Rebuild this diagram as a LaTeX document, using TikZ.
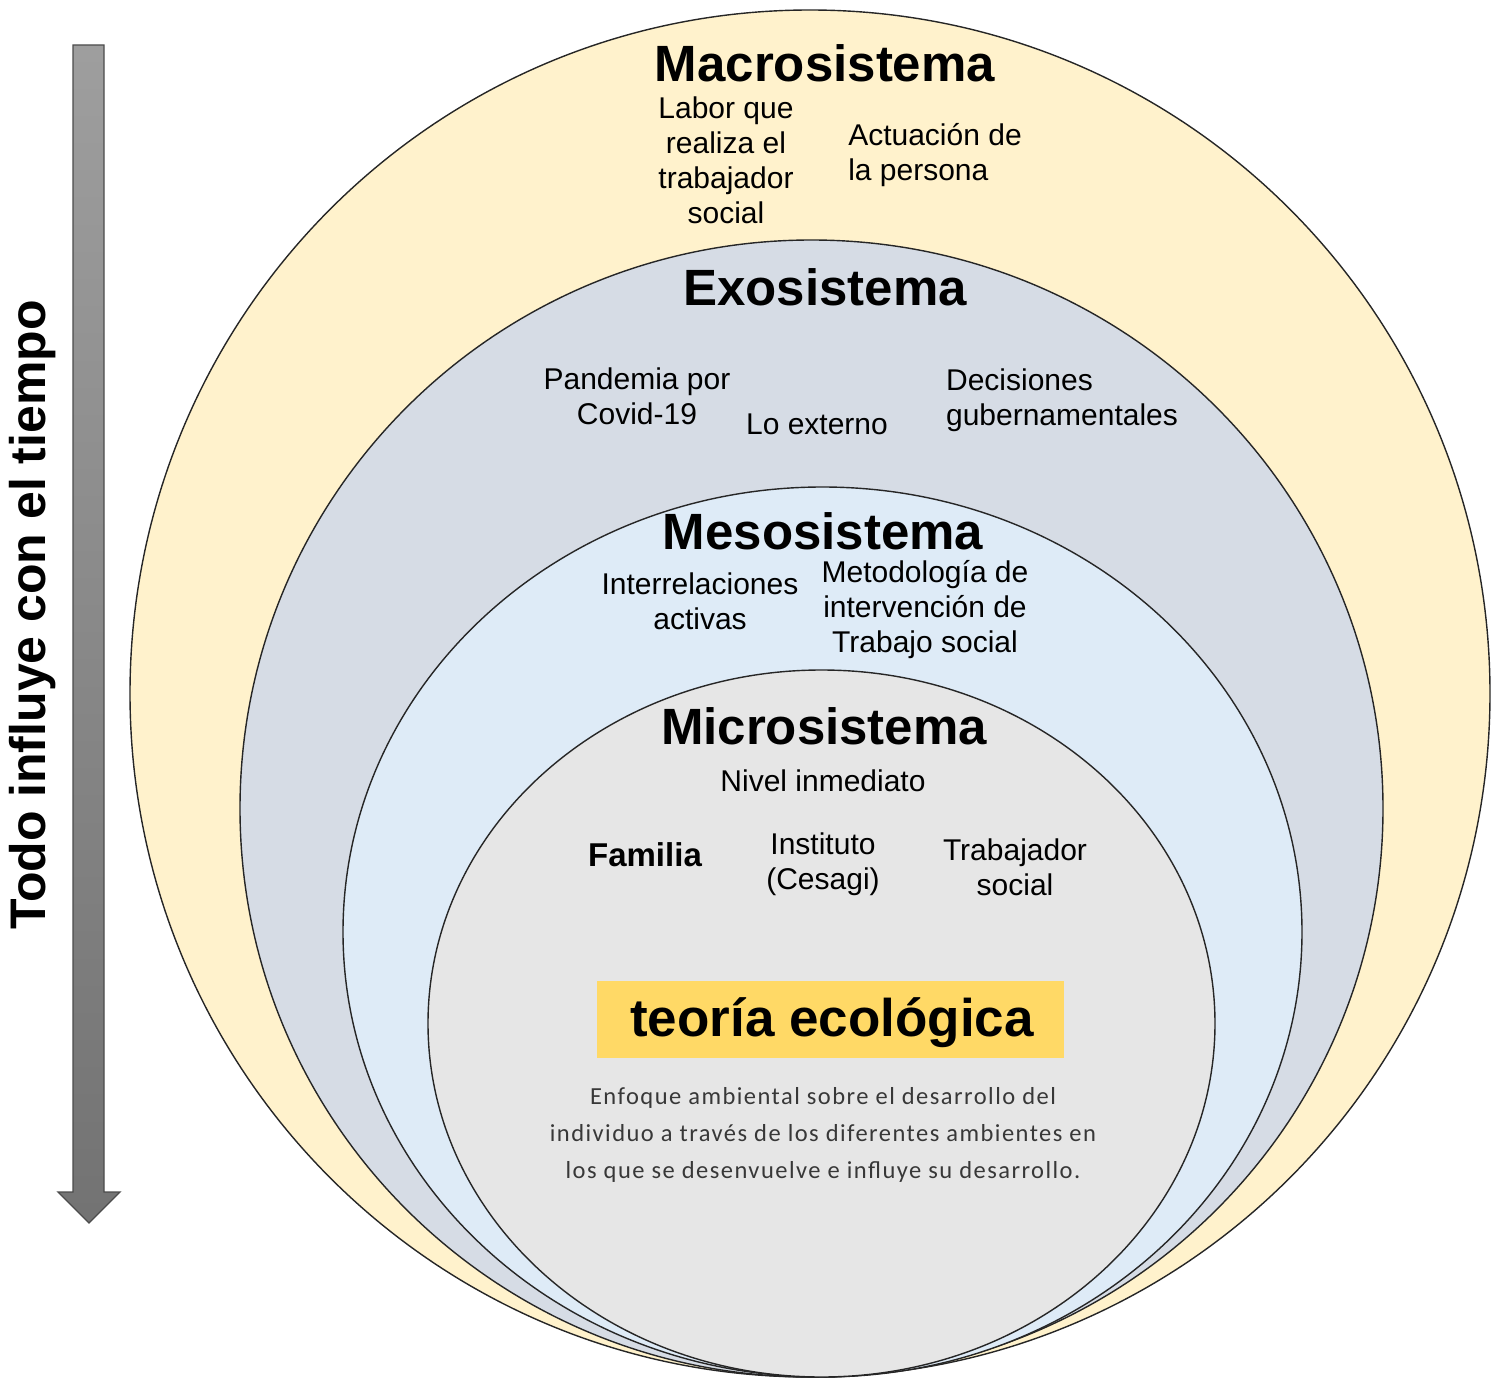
\documentclass[tikz,border=0pt]{standalone}
\usepackage{fontspec}
\setmainfont{Liberation Sans}
\newfontfamily\descfont{Carlito}[LetterSpace=6.0]
\begin{document}
\begin{tikzpicture}[x=1pt,y=-1pt,
  ring/.style={draw=black!85, line width=1.4pt},
  title/.style={font=\fontsize{51}{58}\selectfont\bfseries, inner sep=0pt},
  lbl/.style={font=\fontsize{30}{35}\selectfont, align=center, inner sep=0pt},
  lbll/.style={font=\fontsize{30}{35}\selectfont, align=left, inner sep=0pt},
  desc/.style={font=\descfont\fontsize{24.5}{37}\selectfont, text=black!78, align=center, inner sep=0pt}]
\definecolor{macroc}{HTML}{FFF2CC}
\definecolor{exoc}{HTML}{D6DCE5}
\definecolor{mesoc}{HTML}{DEEBF7}
\definecolor{microc}{HTML}{E6E6E6}
\definecolor{boxc}{HTML}{FFD966}
\useasboundingbox (0,0) rectangle (1500,1378);
% rings
\draw[ring, fill=macroc] (810,693.5) ellipse [x radius=680pt, y radius=683.5pt];
\draw[ring, fill=exoc] (811.5,808.5) ellipse [x radius=571.5pt, y radius=568.5pt];
\draw[ring, fill=mesoc] (822.5,932) ellipse [x radius=479.5pt, y radius=445pt];
\draw[ring, fill=microc] (821.5,1023.5) ellipse [x radius=393.5pt, y radius=353.5pt];
% arrow
\path[draw=black!70, line width=1.3pt, top color=black!38, bottom color=black!55]
  (73,45) -- (104,45) -- (104,1192) -- (120,1192) -- (89,1223) -- (58,1192) -- (73,1192) -- cycle;
\node[font=\fontsize{50}{58}\selectfont\bfseries, rotate=90, inner sep=0pt] (side) at (33,615) {Todo influye con el tiempo};
% macro
\node[title] (macro) at (825,63) {Macrosistema};
\node[lbl] (labor) at (726,160) {Labor que\\realiza el\\trabajador\\social};
\node[lbll] (actu) at (935,155) {Actuación de\\la persona};
% exo
\node[title] (exo) at (825,287) {Exosistema};
\node[lbl] (pand) at (637,396) {Pandemia por\\Covid-19};
\node[lbl] (ext) at (817,424) {Lo externo};
\node[lbll] (deci) at (1062,400) {Decisiones\\gubernamentales};
% meso
\node[title] (meso) at (823,531) {Mesosistema};
\node[lbl] (inter) at (700,601) {Interrelaciones\\activas};
\node[lbl] (meto) at (925,610) {Metodología de\\intervención de\\Trabajo social};
% micro
\node[title] (micro) at (824,726) {Microsistema};
\node[lbl] (nivel) at (823,781) {Nivel inmediato};
\node[lbl, font=\fontsize{33}{38}\selectfont\bfseries] (fam) at (645,855) {Familia};
\node[lbl] (inst) at (823,864) {Instituto\\(Cesagi)};
\node[lbl] (trab) at (1015,867) {Trabajador\\social};
% theory box
\node[fill=boxc, minimum width=467pt, minimum height=77pt, inner sep=0pt] (box) at (830.5,1019.5) {};
\node[font=\fontsize{53}{60}\selectfont\bfseries, inner sep=0pt] (teo) at (832,1023) {teoría ecológica};
\node[desc] (descr) at (823,1135) {Enfoque ambiental sobre el desarrollo del\\individuo a través de los diferentes ambientes en\\los que se desenvuelve e influye su desarrollo.};
\end{tikzpicture}
\end{document}
